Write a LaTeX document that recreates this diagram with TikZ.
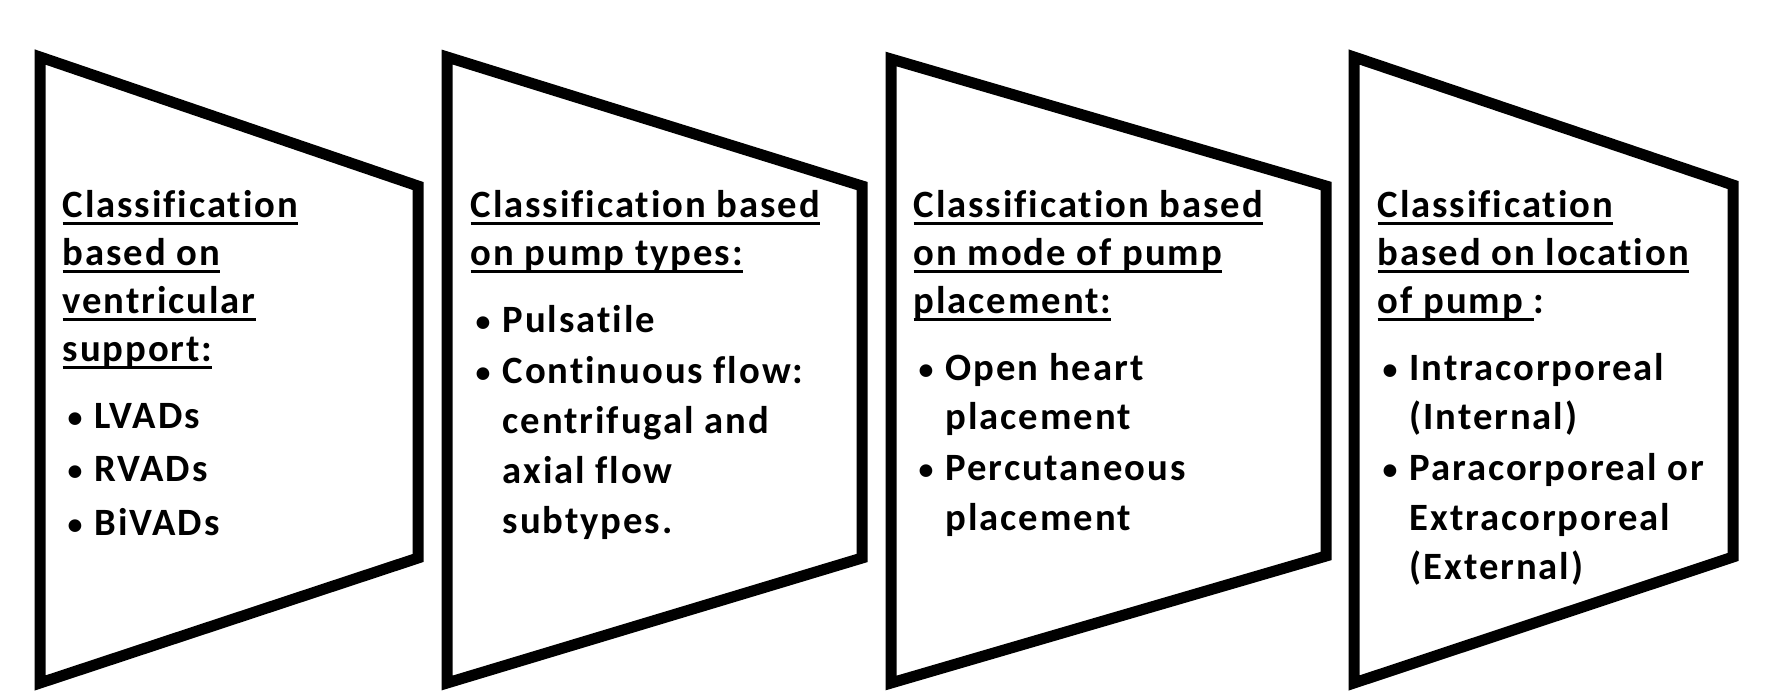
\documentclass[tikz,border=0pt]{standalone}
\usepackage{fontspec}
\setmainfont{Carlito}[LetterSpace=5, Ligatures=NoCommon]
\newcommand{\uline}[1]{\setbox0\hbox{#1}\rlap{\rule[-2.15pt]{\wd0}{0.85pt}}\box0}
\newcommand{\bul}{\hspace*{0.5mm}\makebox[2.7mm][l]{\raisebox{0.4pt}{\fontsize{8.5pt}{8.5pt}\selectfont\textbullet}}}
\newcommand{\cont}{\hspace*{3.2mm}}

\begin{document}
\begin{tikzpicture}[
    x=0.1mm, y=-0.1mm,
    every node/.style={font=\bfseries\fontsize{11pt}{13.66pt}\selectfont},
    panel/.style={draw, line width=1.1mm, line join=miter},
    txt/.style={anchor=north west, inner sep=0pt, align=left}
]
\useasboundingbox[fill=white] (0,0) rectangle (1772,695);
\draw[panel] (40,57) -- (418,186) -- (418,558) -- (40,683) -- cycle;
\draw[panel] (447,57) -- (862,186) -- (862,558) -- (447,683) -- cycle;
\draw[panel] (891,59) -- (1326,186) -- (1326,556) -- (891,683) -- cycle;
\draw[panel] (1354,57) -- (1733,185) -- (1733,557) -- (1354,683) -- cycle;
\node[txt] (ventricular) at (62,190) {\uline{Classification}\\\uline{based on}\\\uline{ventricular}\\\uline{support:}\\[1.9mm]
    \bul LVADs\\[0.5mm]\bul RVADs\\[0.6mm]\bul BiVADs};
\node[txt] (pumptype) at (470,190) {\uline{Classification based}\\\uline{on pump types:}\\[1.9mm]
    \bul Pulsatile\\[0.3mm]\bul Continuous flow:\\[0.2mm]\cont centrifugal and\\[0.2mm]\cont axial flow\\[0.2mm]\cont subtypes.};
\node[txt] (placement) at (913,190) {\uline{Classification based}\\\uline{on mode of pump}\\\uline{placement:}\\[1.9mm]
    \bul Open heart\\[0.1mm]\cont placement\\[0.3mm]\bul Percutaneous\\[0.2mm]\cont placement};
\node[txt] (location) at (1377,190) {\uline{Classification}\\\uline{based on location}\\\uline{of pump\ }:\\[1.9mm]
    \bul Intracorporeal\\[0.1mm]\cont (Internal)\\[0.3mm]\bul Paracorporeal or\\[0.2mm]\cont Extracorporeal\\[0.1mm]\cont (External)};
\end{tikzpicture}
\end{document}
